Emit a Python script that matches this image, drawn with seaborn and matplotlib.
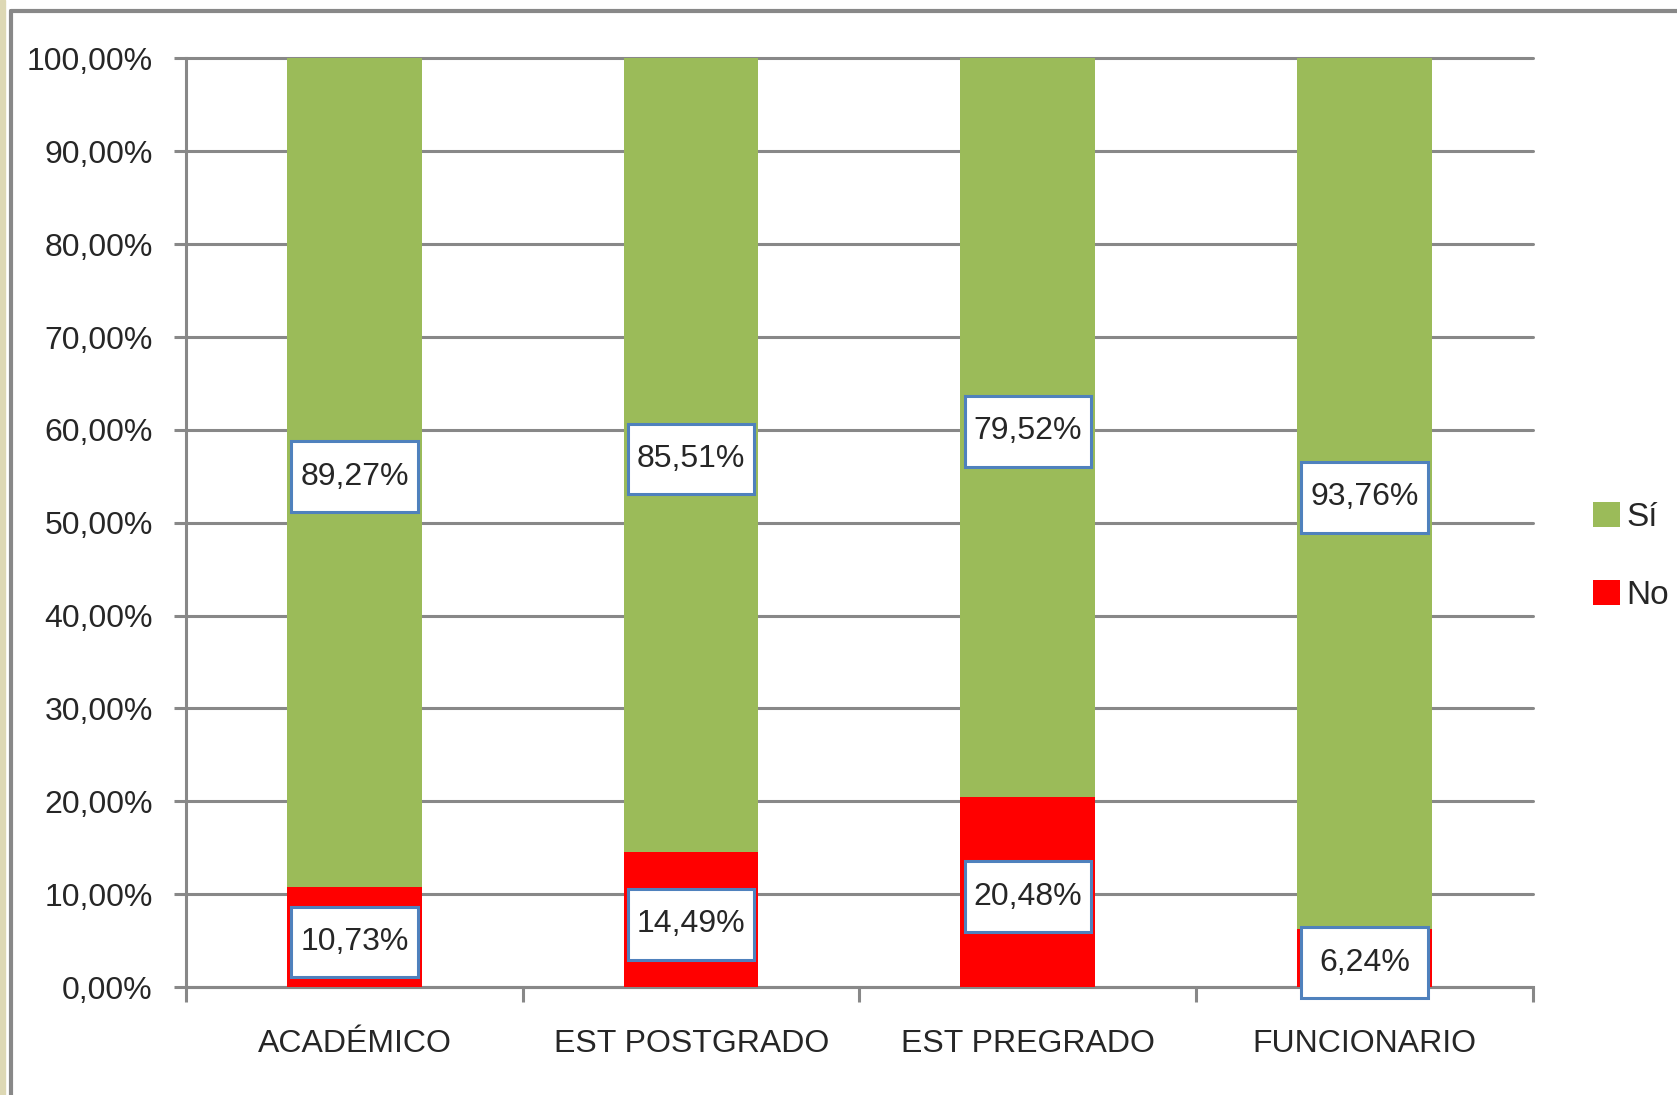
import matplotlib
matplotlib.use("Agg")
import matplotlib.pyplot as plt
from matplotlib.patches import Patch, Rectangle
from matplotlib.lines import Line2D
from matplotlib.ticker import FuncFormatter, FixedLocator
import seaborn as sns
import pandas as pd

# Datos
categorias = ["ACADÉMICO", "EST POSTGRADO", "EST PREGRADO", "FUNCIONARIO"]
si_vals = [89.27, 85.51, 79.52, 93.76]
no_vals = [10.73, 14.49, 20.48, 6.24]

verde = "#9BBB59"
rojo = "#FF0000"
gris = "#888888"
azul_borde = "#4F81BD"

sns.set_style("white")
plt.rcParams["font.family"] = ["Liberation Sans", "DejaVu Sans"]
fs = 23

df = pd.DataFrame({"cat": categorias, "si": si_vals, "no": no_vals})
df["total"] = df["si"] + df["no"]

fig = plt.figure(figsize=(16.77, 10.95), dpi=100)
ax = fig.add_axes([0.111, 0.0986, 0.803, 0.848])

# barra completa (Sí) y encima la parte "No" desde la base
sns.barplot(data=df, x="cat", y="total", color=verde, width=0.4,
            saturation=1, linewidth=0, ax=ax, zorder=2)
sns.barplot(data=df, x="cat", y="no", color=rojo, width=0.4,
            saturation=1, linewidth=0, ax=ax, zorder=3)

ax.set_xlim(-0.5, 3.5)
ax.set_ylim(0, 100)
ax.set_xlabel("")
ax.set_ylabel("")

# eje y
ax.yaxis.set_major_locator(FixedLocator(list(range(0, 101, 10))))
ax.yaxis.set_major_formatter(FuncFormatter(lambda v, p: f"{v:.2f}%".replace(".", ",")))
ax.tick_params(axis="y", which="major", length=9, width=2.2, color=gris,
               pad=15, labelsize=fs, direction="out", left=True)
ax.yaxis.grid(True, color=gris, linewidth=2.2)
for gl in ax.get_ygridlines():
    gl.set_clip_on(False)
ax.set_axisbelow(True)

# eje x: marcas en los límites, etiquetas al centro
ax.xaxis.set_major_locator(FixedLocator([-0.5, 0.5, 1.5, 2.5, 3.5]))
ax.xaxis.set_major_formatter(FuncFormatter(lambda v, p: ""))
ax.set_xticks([0, 1, 2, 3], minor=True)
ax.set_xticklabels(categorias, minor=True)
ax.tick_params(axis="x", which="major", length=11, width=2.2, color=gris,
               direction="out", bottom=True)
ax.tick_params(axis="x", which="minor", length=0, pad=30, labelsize=fs)

for s in ["top", "right"]:
    ax.spines[s].set_visible(False)
for s in ["left", "bottom"]:
    ax.spines[s].set_color(gris)
    ax.spines[s].set_linewidth(2.2)

# etiquetas de datos con recuadro blanco y borde azul
bw, bh = 0.375, 7.6   # tamaño del recuadro (unidades de categoría, %)

def etiqueta(x, y, valor):
    ax.add_patch(Rectangle((x - bw / 2, y - bh / 2), bw, bh, fc="white",
                           ec=azul_borde, lw=2.2, zorder=4, clip_on=False))
    ax.text(x, y, f"{valor:.2f}%".replace(".", ","), ha="center", va="center",
            fontsize=fs, zorder=5, clip_on=False)

for i, (s, n) in enumerate(zip(si_vals, no_vals)):
    etiqueta(i, n + s / 2 - 0.4, s)
    etiqueta(i, n / 2 - 0.5, n)

# leyenda
handles = [Patch(facecolor=verde, edgecolor="none", label="Sí"),
           Patch(facecolor=rojo, edgecolor="none", label="No")]
fig.legend(handles=handles, loc="center left", bbox_to_anchor=(0.94, 0.492),
           frameon=False, fontsize=fs + 1, handlelength=0.8, handleheight=0.8,
           handletextpad=0.2, labelspacing=1.4, borderpad=0)

# borde del marco
W, H = 1677, 1095
fig.add_artist(Line2D([11 / W, 1], [1 - 11 / H, 1 - 11 / H], color=gris,
                      linewidth=3, transform=fig.transFigure))
fig.add_artist(Line2D([11 / W, 11 / W], [0, 1 - 11 / H], color=gris,
                      linewidth=3, transform=fig.transFigure))
fig.add_artist(Rectangle((0, 0), 5 / W, 1, color="#ddd8b4",
                         transform=fig.transFigure))

fig.savefig("out.png", dpi=100)
plt.close(fig)
